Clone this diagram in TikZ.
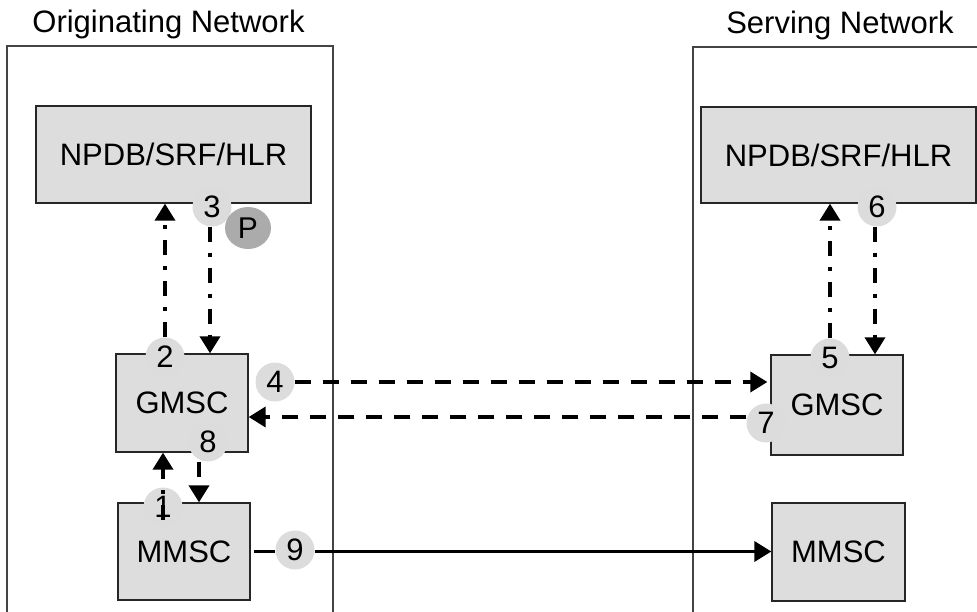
\documentclass[tikz,border=0pt]{standalone}
\usepackage{fontspec}
\setmainfont{Liberation Sans}
\usetikzlibrary{arrows.meta,shapes.geometric}
\definecolor{boxfill}{HTML}{DDDDDD}
\definecolor{numfill}{HTML}{DCDCDC}
\definecolor{pfill}{HTML}{ABABAB}
\definecolor{frameline}{HTML}{444444}
\begin{document}
\begin{tikzpicture}[x=1pt,y=-1pt,
  every node/.style={font=\fontsize{31}{33}\selectfont, inner sep=0pt},
  unit/.style={draw=black!85, line width=1.3pt, fill=boxfill},
  numc/.style={circle, fill=numfill, minimum size=39pt, font=\fontsize{31}{32}\selectfont},
  tip/.style={-{Triangle[length=17pt,width=20pt]}},
  dd/.style={tip, line width=3.6pt, dash pattern=on 15pt off 11pt on 4pt off 11pt},
  dsh/.style={tip, line width=3.6pt, dash pattern=on 16pt off 12pt},
  sol/.style={tip, line width=3.6pt},
  solplain/.style={line width=3.6pt}]
\useasboundingbox (0,0) rectangle (977,612);
% network frames
\draw[frameline, line width=1.3pt] (7,620) -- (7,46) -- (333,46) -- (333,620);
\draw[frameline, line width=1.3pt] (693,620) -- (693,47) -- (1010,47);
\node[anchor=base] (tl) at (168.5,33) {Originating Network};
\node[anchor=base] (tr) at (840,34) {Serving Network};
% boxes
\node[unit, minimum width=275pt, minimum height=97pt] (npdbL) at (173.5,154.5) {NPDB/SRF/HLR};
\node[unit, minimum width=275pt, minimum height=96pt] (npdbR) at (838.5,155) {NPDB/SRF/HLR};
\node[unit, minimum width=132pt, minimum height=98pt, text depth=-8pt] (gmscL) at (182,403) {GMSC};
\node[unit, minimum width=132pt, minimum height=100pt, text depth=-8pt] (gmscR) at (837,405) {GMSC};
\node[unit, minimum width=132pt, minimum height=97pt] (mmscL) at (184,551.5) {MMSC};
\node[unit, minimum width=133pt, minimum height=98pt] (mmscR) at (838.5,552) {MMSC};
% number markers
\node[numc] (c3) at (212,207) {3};
\node[ellipse, fill=pfill, minimum width=46pt, minimum height=42pt, font=\fontsize{30}{31}\selectfont] (cp) at (248,228) {P};
\node[numc] (c6) at (877,207) {6};
\node[numc] (c2) at (165,357) {2};
\node[numc] (c5) at (830,358) {5};
\node[numc] (c4) at (275,382) {4};
\node[numc] (c7) at (766,423) {7};
\node[numc] (c8) at (208,442) {8};
\node[numc] (c1) at (163,507) {1};
\node[numc] (c9) at (295,550) {9};
% connectors
\draw[dd] (c2.north) -- (c2.north |- npdbL.south);
\draw[dd] ([xshift=-2pt]c3.south) -- ([xshift=-2pt]c3.south |- gmscL.north);
\draw[dd] (c5.north) -- (c5.north |- npdbR.south);
\draw[dd] ([xshift=-2pt]c6.south) -- ([xshift=-2pt]c6.south |- gmscR.north);
\draw[dsh] (c4.east) -- ([xshift=-3pt]c4.east -| gmscR.west);
\draw[dsh] ([yshift=6pt]c7.west) -- ([yshift=6pt]c7.west -| gmscL.east);
\draw[dd] ([xshift=-9pt]c8.south) -- ([xshift=-9pt]c8.south |- mmscL.north);
\draw[dd] ([yshift=-13pt]c1.center) -- (c1.center |- gmscL.south);
\draw[solplain] ([xshift=3pt]mmscL.east) -- (mmscL.east -| c9.west);
\draw[sol] (c9.east |- mmscL.east) -- (mmscL.east -| mmscR.west);
\end{tikzpicture}
\end{document}
